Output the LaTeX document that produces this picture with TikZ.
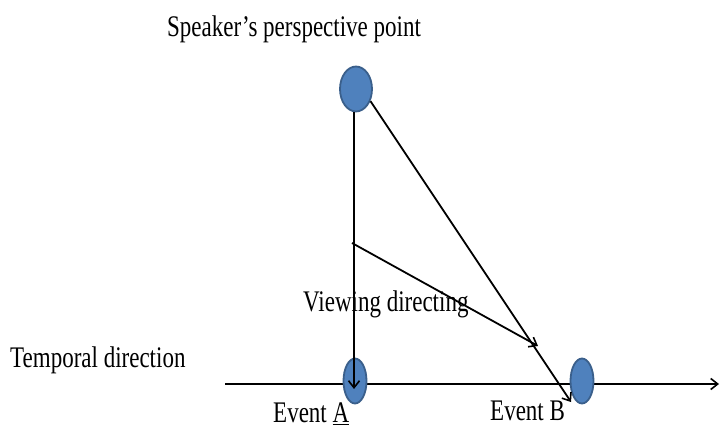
\documentclass[tikz,border=0pt]{standalone}
\usepackage{fontspec}
\setmainfont{Liberation Serif}
\usetikzlibrary{arrows.meta,shapes.geometric}
\definecolor{dotfill}{HTML}{4F81BD}
\definecolor{dotline}{HTML}{3A5F8B}
\begin{document}
\begin{tikzpicture}[x=1pt,y=-1pt,
  dot/.style={ellipse,fill=dotfill,draw=dotline,line width=1.8pt,inner sep=0pt},
  ln/.style={line width=1.8pt,black},
  arr/.style={ln,-{Straight Barb[length=7pt,width=11pt,line width=1.6pt]}},
  lbl/.style={anchor=base west,inner sep=0pt,font=\fontsize{23}{23}\selectfont}]
\useasboundingbox (0,0) rectangle (720,427);
% horizontal time line
\coordinate (hs) at (225,384);
\coordinate (he) at (719,384);
\draw[arr] (hs) -- (he);
% dots
\node[dot,minimum width=32pt,minimum height=45pt] (sp) at (356,89) {};
\node[dot,minimum width=23pt,minimum height=45pt] (ea) at (355,381) {};
\node[dot,minimum width=23pt,minimum height=45pt] (eb) at (582,381) {};
% arrows
\coordinate (va) at (354,389);
\draw[arr] (sp.south -| va) -- (va);
\coordinate (tb) at (571,402);
\draw[arr] (sp.-40) -- (tb);
\coordinate (ms) at (352,243);
\coordinate (me) at (538,346);
\draw[arr] (ms) -- (me);
% labels
\node[lbl] (t1) at (167,37) {\scalebox{1}[1.3]{Speaker’s perspective point}};
\node[lbl] (t2) at (10,367) {\scalebox{1}[1.3]{Temporal direction}};
\node[lbl] (t3) at (303,312) {\scalebox{1}[1.3]{Viewing directing}};
\node[lbl] (t4) at (273,422) {\scalebox{1}[1.3]{Event \underline{A}}};
\node[lbl] (t5) at (490,420) {\scalebox{1}[1.3]{Event B}};
\end{tikzpicture}
\end{document}
